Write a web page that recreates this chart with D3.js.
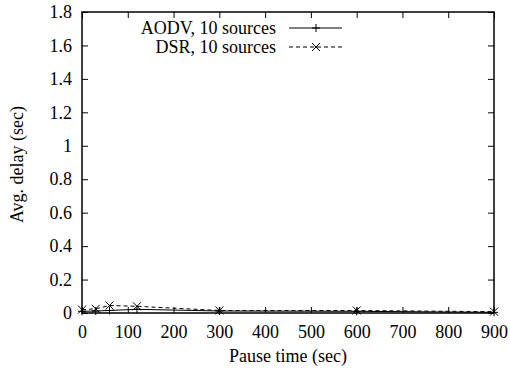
<!doctype html>
<html>
<head>
  <meta charset="utf-8">
  <title>d3</title>
  <style>
    body { margin: 0; background: #fff; }
    svg text { font-family: 'Liberation Serif', 'Times New Roman', serif !important; font-size: 18px; fill: #000; }
  </style>
</head>
<body>
  <svg width="510" height="379"></svg>
  <script src="https://d3js.org/d3.v7.min.js"></script>
  <script>
    const pauseTimes = [0, 30, 60, 120, 300, 600, 900];
    const aodv = [0.010, 0.012, 0.015, 0.022, 0.012, 0.010, 0.004];
    const dsr = [0.020, 0.025, 0.045, 0.040, 0.015, 0.015, 0.008];
    const xTicks = [0, 100, 200, 300, 400, 500, 600, 700, 800, 900];
    const yTicks = [0, 0.2, 0.4, 0.6, 0.8, 1, 1.2, 1.4, 1.6, 1.8];

    const svg = d3.select('svg');
    const margin = { top: 12, left: 82, bottom: 66, right: 16 };
    const width = +svg.attr('width') - margin.left - margin.right;
    const height = +svg.attr('height') - margin.top - margin.bottom;
    const g = svg.append('g').attr('transform', `translate(${margin.left}, ${margin.top})`);

    const x = d3.scaleLinear().domain([0, 900]).range([0, width]);
    const y = d3.scaleLinear().domain([0, 1.8]).range([height, 0]);
    const tl = 6;
    const serif = "'Liberation Serif', 'Times New Roman', serif";

    // axes with inward ticks, mirrored
    const styleAxis = sel => {
      sel.attr('font-family', serif).attr('font-size', 18);
      sel.select('.domain').remove();
      sel.selectAll('line').attr('stroke', '#000').attr('stroke-width', 1);
    };
    g.append('g').attr('transform', `translate(0, ${height})`)
      .call(d3.axisBottom(x).tickValues(xTicks).tickSize(-tl).tickPadding(12).tickFormat(d3.format('d')))
      .call(styleAxis);
    g.append('g')
      .call(d3.axisTop(x).tickValues(xTicks).tickSize(-tl).tickFormat(''))
      .call(styleAxis);
    g.append('g')
      .call(d3.axisLeft(y).tickValues(yTicks).tickSize(-tl).tickPadding(10).tickFormat(d => d3.format('')(+d.toFixed(1))))
      .call(styleAxis);
    g.append('g').attr('transform', `translate(${width}, 0)`)
      .call(d3.axisRight(y).tickValues(yTicks).tickSize(-tl).tickFormat(''))
      .call(styleAxis);

    g.append('rect')
      .attr('width', width).attr('height', height)
      .attr('fill', 'none').attr('stroke', '#000').attr('stroke-width', 1.5);

    const line = d3.line().x((d, i) => x(pauseTimes[i])).y(d => y(d));

    const plus = (sel, px, py) => sel.append('path')
      .attr('d', `M${px - 4},${py}H${px + 4}M${px},${py - 4}V${py + 4}`)
      .attr('stroke', '#000').attr('stroke-width', 1);
    const cross = (sel, px, py) => sel.append('path')
      .attr('d', `M${px - 4},${py - 4}L${px + 4},${py + 4}M${px - 4},${py + 4}L${px + 4},${py - 4}`)
      .attr('stroke', '#000').attr('stroke-width', 1);

    g.append('path').datum(aodv)
      .attr('fill', 'none').attr('stroke', '#000').attr('stroke-width', 1)
      .attr('d', line);
    aodv.forEach((d, i) => plus(g, x(pauseTimes[i]), y(d)));

    g.append('path').datum(dsr)
      .attr('fill', 'none').attr('stroke', '#000').attr('stroke-width', 1)
      .attr('stroke-dasharray', '4,3')
      .attr('d', line);
    dsr.forEach((d, i) => cross(g, x(pauseTimes[i]), y(d)));

    // legend
    const legend = svg.append('g');
    const entries = [
      { name: 'AODV, 10 sources', dash: null, mark: plus },
      { name: 'DSR, 10 sources', dash: '4,3', mark: cross }
    ];
    entries.forEach((e, i) => {
      const ly = 28 + i * 19;
      legend.append('text').attr('x', 276).attr('y', ly).attr('dy', '0.35em')
        .attr('text-anchor', 'end').text(e.name);
      legend.append('line').attr('x1', 289).attr('x2', 342).attr('y1', ly).attr('y2', ly)
        .attr('stroke', '#000').attr('stroke-width', 1).attr('stroke-dasharray', e.dash);
      e.mark(legend, 316, ly);
    });

    // axis titles
    svg.append('text').attr('x', margin.left + width / 2).attr('y', 362)
      .attr('text-anchor', 'middle').text('Pause time (sec)');
    svg.append('text').attr('transform', `translate(23, ${margin.top + height / 2 + 2}) rotate(-90)`)
      .attr('text-anchor', 'middle').text('Avg. delay (sec)');
  </script>
</body>
</html>
